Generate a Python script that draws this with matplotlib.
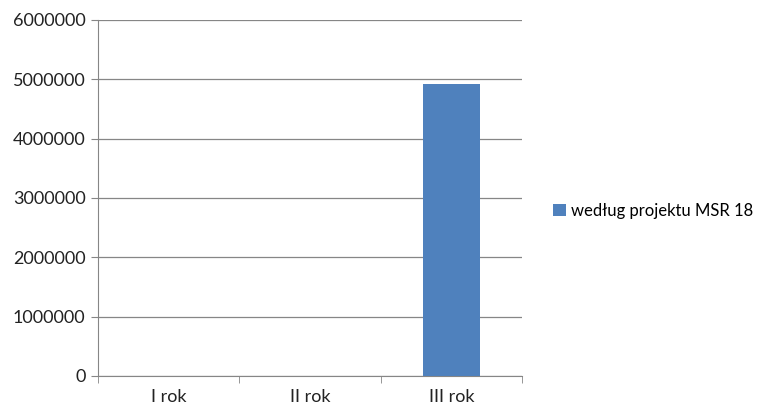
import numpy as np
import matplotlib.pyplot as plt
from matplotlib.patches import Patch

kategorie = ["I rok", "II rok", "III rok"]
wartosci = [0, 0, 4920000]
seria = "według projektu MSR 18"
yticks = [0, 1000000, 2000000, 3000000, 4000000, 5000000, 6000000]

plt.rcParams['font.family'] = ['Lato', 'DejaVu Sans']

fig = plt.figure(figsize=(7.64, 4.07), dpi=100)
ax = fig.add_axes([98/764, 1 - 376/407, (522-98)/764, (376-20)/407])

x = np.arange(len(kategorie))
ax.bar(x, wartosci, width=0.4, color="#4f81bd", zorder=3)

ax.set_xlim(-0.5, len(kategorie) - 0.5)
ax.set_ylim(0, 6000000)
ax.set_yticks(yticks)
ax.set_yticklabels([str(v) for v in yticks], fontsize=13, color="#222222")
ax.set_xticks(x)
ax.set_xticklabels(kategorie, fontsize=13, color="#222222")
ax.tick_params(axis='x', length=0, pad=9)
ax.set_xticks(np.arange(len(kategorie) + 1) - 0.5, minor=True)
ax.tick_params(axis='x', which='minor', length=5, color="#868686")
ax.tick_params(axis='y', length=5, color="#868686", pad=4)

ax.grid(axis='y', color="#868686", linewidth=0.9, zorder=0)
for s in ['top', 'right']:
    ax.spines[s].set_visible(False)
for s in ['left', 'bottom']:
    ax.spines[s].set_color("#868686")

uchwyt = [Patch(facecolor="#4f81bd", label=seria)]
fig.legend(handles=uchwyt, loc='center left', bbox_to_anchor=(550/764, 1 - 211/407),
           frameon=False, fontsize=12, handlelength=0.75, handleheight=0.75,
           handletextpad=0.3, borderpad=0.1, borderaxespad=0.1)

plt.savefig("out.png", dpi=100)
